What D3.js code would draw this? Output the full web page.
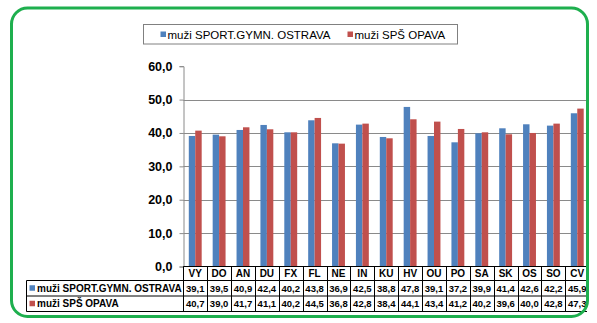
<!DOCTYPE html>
<html><head><meta charset="utf-8">
<script src="https://cdn.jsdelivr.net/npm/d3@7"></script>
<style>body{margin:0;background:#fff} svg{display:block}</style>
</head><body><svg id="c" width="597" height="323"></svg>
<script>
const categories = ["VY","DO","AN","DU","FX","FL","NE","IN","KU","HV","OU","PO","SA","SK","OS","SO","CV"];
const seriesNames = ["muži SPORT.GYMN. OSTRAVA","muži SPŠ OPAVA"];
const ostrava = [39.1,39.5,40.9,42.4,40.2,43.8,36.9,42.5,38.8,47.8,39.1,37.2,39.9,41.4,42.6,42.2,45.9];
const opava = [40.7,39.0,41.7,41.1,40.2,44.5,36.8,42.8,38.4,44.1,43.4,41.2,40.2,39.6,40.0,42.8,47.3];
const yTicks = [0,10,20,30,40,50,60];
const colors = ["#4F81BD","#C0504D"];
const series = [ostrava, opava];

const fmt = v => d3.format(".1f")(v).replace(".", ",");
const svg = d3.select("#c");
const font = "'Liberation Sans', Arial, sans-serif";

svg.append("defs").append("clipPath").attr("id","clip")
  .append("rect").attr("x",0).attr("y",0).attr("width",587).attr("height",323);
const g = svg.append("g").attr("clip-path","url(#clip)");

const x = d3.scaleBand().domain(categories).range([183.3, 589.2]).padding(0);
const bw = x.bandwidth();
const x1 = d3.scaleBand().domain([0,1]).range([bw*0.23, bw*0.77]).padding(0);
const y = d3.scaleLinear().domain([0,60]).range([266.5, 66.2]);

// gridlines
g.append("g").selectAll("line").data(yTicks.filter(t => t > 0 && t < 60)).join("line")
  .attr("x1", 183.3).attr("x2", 589.2)
  .attr("y1", d => Math.round(y(d))+0.5).attr("y2", d => Math.round(y(d))+0.5)
  .attr("stroke", "#8a8a8a").attr("stroke-width", 1);

// bars
const grp = g.append("g").selectAll("g").data(categories).join("g")
  .attr("transform", d => `translate(${x(d)},0)`);
grp.selectAll("rect").data((d,i) => series.map((s,k) => ({k, v: s[i]}))).join("rect")
  .attr("x", d => x1(d.k)).attr("width", x1.bandwidth())
  .attr("y", d => y(d.v)).attr("height", d => y(0) - y(d.v))
  .attr("fill", d => colors[d.k]);

// y axis
const yAxis = d3.axisLeft(y).tickValues(yTicks).tickSize(4).tickPadding(7).tickFormat(fmt);
const ya = g.append("g").attr("transform","translate(183.5,0)").call(yAxis);
ya.select(".domain").attr("stroke","#8a8a8a");
ya.selectAll(".tick line").attr("stroke","#8a8a8a");
ya.selectAll(".tick text").attr("font-family", font).attr("font-weight","bold")
  .attr("font-size", 12.5).attr("fill","#000");

// data table
const rowY = [266.5, 280.5, 296, 311.5];
const tbl = g.append("g").attr("stroke","#000").attr("stroke-width",1).attr("fill","none");
// horizontal lines
tbl.append("line").attr("x1",183.3).attr("x2",589.2).attr("y1",rowY[0]).attr("y2",rowY[0]);
[1,2,3].forEach(r => tbl.append("line").attr("x1",26.5).attr("x2",589.2).attr("y1",rowY[r]).attr("y2",rowY[r]));
// vertical lines
categories.forEach(c => tbl.append("line").attr("x1",Math.round(x(c))+0.5).attr("x2",Math.round(x(c))+0.5).attr("y1",rowY[0]).attr("y2",rowY[3]));
tbl.append("line").attr("x1",589).attr("x2",589).attr("y1",rowY[0]).attr("y2",rowY[3]);
tbl.append("line").attr("x1",26.5).attr("x2",26.5).attr("y1",rowY[1]).attr("y2",rowY[3]);

const tt = g.append("g").attr("font-family", font).attr("font-weight","bold").attr("fill","#000");
tt.selectAll("text.cat").data(categories).join("text").attr("class","cat")
  .attr("x", d => x(d)+bw/2).attr("y", (rowY[0]+rowY[1])/2).attr("dy","0.36em")
  .attr("text-anchor","middle").attr("font-size",10).text(d => d);
series.forEach((s,k) => {
  const cy = (rowY[k+1]+rowY[k+2])/2;
  tt.selectAll("text.v"+k).data(s).join("text").attr("class","v"+k)
    .attr("x", (d,i) => x(categories[i])+bw/2).attr("y", cy).attr("dy","0.36em")
    .attr("text-anchor","middle").attr("font-size",9.5).text(d => fmt(d));
  g.append("rect").attr("x",29.5).attr("y",cy-3).attr("width",5.5).attr("height",5.5).attr("fill",colors[k]);
  tt.append("text").attr("x",37).attr("y",cy).attr("dy","0.36em").attr("font-size",10).text(seriesNames[k]);
});

// legend
const lg = svg.append("g");
lg.append("rect").attr("x",143.5).attr("y",24.5).attr("width",314).attr("height",19.5)
  .attr("fill","#fff").attr("stroke","#808080");
const legX = [160.5, 347.5];
seriesNames.forEach((n,k) => {
  lg.append("rect").attr("x",legX[k]).attr("y",31.5).attr("width",5.5).attr("height",5.5).attr("fill",colors[k]);
  lg.append("text").attr("x",legX[k]+7).attr("y",34.5).attr("dy","0.36em")
    .attr("font-family",font).attr("font-size",11.5).attr("fill","#000").text(n);
});

// green rounded border
svg.append("rect").attr("x",11.5).attr("y",8).attr("width",576).attr("height",308.5)
  .attr("rx",16).attr("fill","none").attr("stroke","#1EAF4E").attr("stroke-width",3);
</script></body></html>
